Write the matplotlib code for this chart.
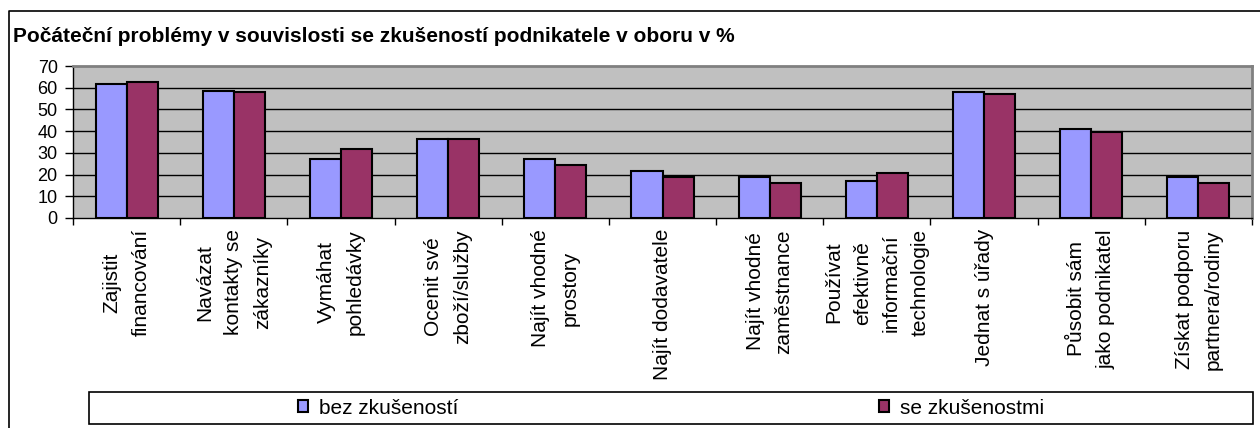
import numpy as np
import matplotlib
matplotlib.use("Agg")
import matplotlib.pyplot as plt
from matplotlib.patches import Rectangle
from matplotlib.lines import Line2D

plt.rcParams['font.family'] = ['Liberation Sans', 'DejaVu Sans']

categories = ["Zajistit\nfinancování",
              "Navázat\nkontakty se\nzákazníky",
              "Vymáhat\npohledávky",
              "Ocenit své\nzboží/služby",
              "Najít vhodné\nprostory",
              "Najít dodavatele",
              "Najít vhodné\nzaměstnance",
              "Používat\nefektivně\ninformační\ntechnologie",
              "Jednat s úřady",
              "Působit sám\njako podnikatel",
              "Získat podporu\npartnera/rodiny"]
bez_zkusenosti = [61.7, 58.6, 27.4, 36.6, 27.4, 21.8, 19.1, 17.2, 58.0, 41.2, 19.1]
se_zkusenostmi = [62.5, 57.8, 32.0, 36.6, 24.6, 19.1, 16.3, 20.8, 57.1, 39.5, 16.3]
series_names = ["bez zkušeností", "se zkušenostmi"]
yticks = [0, 10, 20, 30, 40, 50, 60, 70]

W, H = 1260, 428
fig = plt.figure(figsize=(W / 100, H / 100), dpi=100)
ax = fig.add_axes([73 / W, 1 - 218 / H, (1252 - 73) / W, (218 - 66) / H])

x = np.arange(len(categories))
w = 0.29
ax.set_facecolor('#C0C0C0')
ax.bar(x - w / 2, bez_zkusenosti, w, color='#9999FF', edgecolor='black',
       linewidth=1.5, label=series_names[0], zorder=3)
ax.bar(x + w / 2, se_zkusenostmi, w, color='#993366', edgecolor='black',
       linewidth=1.5, label=series_names[1], zorder=3)

ax.set_xlim(-0.5, len(categories) - 0.5)
ax.set_ylim(0, 70)
ax.set_yticks(yticks)
for yv in yticks[1:-1]:
    ax.axhline(yv, color='black', lw=1, zorder=1)

ax.set_xticks(x)
ax.set_xticklabels(categories, rotation=90, fontsize=15, va='top', ha='center',
                   multialignment='center', linespacing=1.65)
ax.set_xticks(np.arange(-0.5, len(categories)), minor=True)
ax.tick_params(axis='x', which='major', length=0, pad=8)
ax.tick_params(axis='x', which='minor', length=5, width=1, color='black', direction='out')
ax.tick_params(axis='y', labelsize=13, length=6, width=1, direction='out', pad=5)

for s in ['top', 'right']:
    ax.spines[s].set_color('#808080')
    ax.spines[s].set_linewidth(2)
for s in ['left', 'bottom']:
    ax.spines[s].set_color('black')
    ax.spines[s].set_linewidth(1)

fig.text(13 / W, 1 - 42 / H,
         "Počáteční problémy v souvislosti se zkušeností podnikatele v oboru v %",
         fontsize=15, fontweight='bold', ha='left', va='baseline')

# outer frame (left and top edges visible)
fig.add_artist(Line2D([9 / W, 9 / W, 1.0], [0, 1 - 11 / H, 1 - 11 / H],
                      transform=fig.transFigure, color='black', lw=1.2))

# legend box
fig.add_artist(Rectangle((89 / W, 1 - 424 / H), (1253 - 89) / W, 32 / H,
                         transform=fig.transFigure, facecolor='white',
                         edgecolor='black', lw=1.2))
handles, labels = ax.get_legend_handles_labels()
fig.legend(handles, labels, loc='center left', bbox_to_anchor=(298 / W, 1 - 408 / H),
           ncol=2, frameon=False, fontsize=15, handlelength=0.5, handleheight=0.5,
           handletextpad=0.5, columnspacing=20.2, borderpad=0, borderaxespad=0)

fig.savefig('out.png', dpi=100)
